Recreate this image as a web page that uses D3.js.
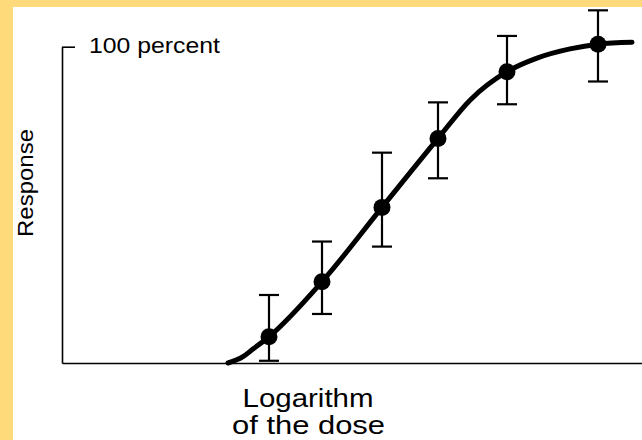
<!DOCTYPE html>
<html>
<head>
<meta charset="utf-8">
<script src="https://cdn.jsdelivr.net/npm/d3@7"></script>
<style>
  body { margin: 0; background: #fff; }
  svg { display: block; font-family: "Liberation Sans", Arial, Helvetica, sans-serif; }
</style>
</head>
<body>
<script>
// dose (log units) and response (percent)
const doseLog = [20.7, 26.0, 32.0, 37.6, 44.5, 53.6];
const responseMean = [8.3, 25.7, 49.2, 71.0, 92.1, 100.8];
const errLow = [0.7, 15.5, 36.8, 58.4, 81.8, 89.0];
const errHigh = [21.5, 38.4, 66.5, 82.4, 103.4, 111.5];

// fitted sigmoid curve
const curveDose = [16.6, 18.1, 19.1, 20.7, 26.0, 32.0, 37.6, 40.8, 44.5, 47.5, 50.8, 53.6, 57.0];
const curveResp = [0, 2.0, 4.4, 8.3, 25.7, 49.2, 71.0, 83.1, 92.1, 96.4, 99.3, 100.8, 101.4];

const yTicks = [100];

var width = 642, height = 440;

var svg = d3.select('body').append('svg')
  .attr('width', width)
  .attr('height', height);

// yellow frame + white panel
svg.append('rect').attr('width', width).attr('height', height).attr('fill', '#ffda7b');
svg.append('rect').attr('x', 13).attr('y', 7).attr('width', width - 13).attr('height', height - 7).attr('fill', '#fff');

var x = d3.scaleLinear().domain([0, 58]).range([62, 642]);
var y = d3.scaleLinear().domain([0, 100]).range([363, 46.7]);

// y axis with the single "100 percent" tick pointing inward
var yAxis = d3.axisRight(y)
  .tickValues(yTicks)
  .tickSizeInner(13)
  .tickSizeOuter(0)
  .tickPadding(14)
  .tickFormat(function(d) { return d + ' percent'; });

var gy = svg.append('g')
  .attr('transform', 'translate(' + x(0) + ',0)')
  .call(yAxis);
gy.select('.domain').attr('stroke', '#000').attr('stroke-width', 1.6);
gy.selectAll('.tick line').attr('stroke', '#000').attr('stroke-width', 1.6);
gy.selectAll('.tick text')
  .attr('fill', '#000')
  .attr('font-size', 22)
  .attr('font-family', '"Liberation Sans", Arial, sans-serif')
  .attr('dy', '0.28em')
  .attr('textLength', 131)
  .attr('lengthAdjust', 'spacingAndGlyphs');

// x axis, no ticks
var xAxis = d3.axisBottom(x).tickValues([]).tickSizeOuter(0);
var gx = svg.append('g')
  .attr('transform', 'translate(0,' + y(0) + ')')
  .call(xAxis);
gx.select('.domain').attr('stroke', '#000').attr('stroke-width', 1.6);

// axis titles
svg.append('text')
  .attr('transform', 'translate(33,183) rotate(-90)')
  .attr('text-anchor', 'middle')
  .attr('font-size', 22)
  .attr('textLength', 108)
  .attr('lengthAdjust', 'spacingAndGlyphs')
  .text('Response');

svg.append('text')
  .attr('x', 308).attr('y', 407)
  .attr('text-anchor', 'middle')
  .attr('font-size', 26)
  .attr('textLength', 131)
  .attr('lengthAdjust', 'spacingAndGlyphs')
  .text('Logarithm');

svg.append('text')
  .attr('x', 308.5).attr('y', 434)
  .attr('text-anchor', 'middle')
  .attr('font-size', 26)
  .attr('textLength', 153)
  .attr('lengthAdjust', 'spacingAndGlyphs')
  .text('of the dose');

// curve
var curveData = curveDose.map(function(d, i) { return [d, curveResp[i]]; });
var line = d3.line()
  .x(function(d) { return x(d[0]); })
  .y(function(d) { return y(d[1]); })
  .curve(d3.curveMonotoneX);

svg.append('path')
  .datum(curveData)
  .attr('d', line)
  .attr('fill', 'none')
  .attr('stroke', '#000')
  .attr('stroke-width', 5)
  .attr('stroke-linecap', 'round');

// error bars
var pts = doseLog.map(function(d, i) {
  return { x: d, y: responseMean[i], lo: errLow[i], hi: errHigh[i] };
});
var capW = 10;
var eb = svg.append('g').attr('stroke', '#000').attr('stroke-width', 2.2);
eb.selectAll('.bar').data(pts).enter().append('line')
  .attr('x1', function(d) { return x(d.x); })
  .attr('x2', function(d) { return x(d.x); })
  .attr('y1', function(d) { return y(d.lo); })
  .attr('y2', function(d) { return y(d.hi); });
eb.selectAll('.capHi').data(pts).enter().append('line')
  .attr('x1', function(d) { return x(d.x) - capW; })
  .attr('x2', function(d) { return x(d.x) + capW; })
  .attr('y1', function(d) { return y(d.hi); })
  .attr('y2', function(d) { return y(d.hi); });
eb.selectAll('.capLo').data(pts).enter().append('line')
  .attr('x1', function(d) { return x(d.x) - capW; })
  .attr('x2', function(d) { return x(d.x) + capW; })
  .attr('y1', function(d) { return y(d.lo); })
  .attr('y2', function(d) { return y(d.lo); });

// points
svg.append('g').selectAll('circle')
  .data(pts)
  .enter().append('circle')
  .attr('cx', function(d) { return x(d.x); })
  .attr('cy', function(d) { return y(d.y); })
  .attr('r', 8.5)
  .attr('fill', '#000');
</script>
</body>
</html>
